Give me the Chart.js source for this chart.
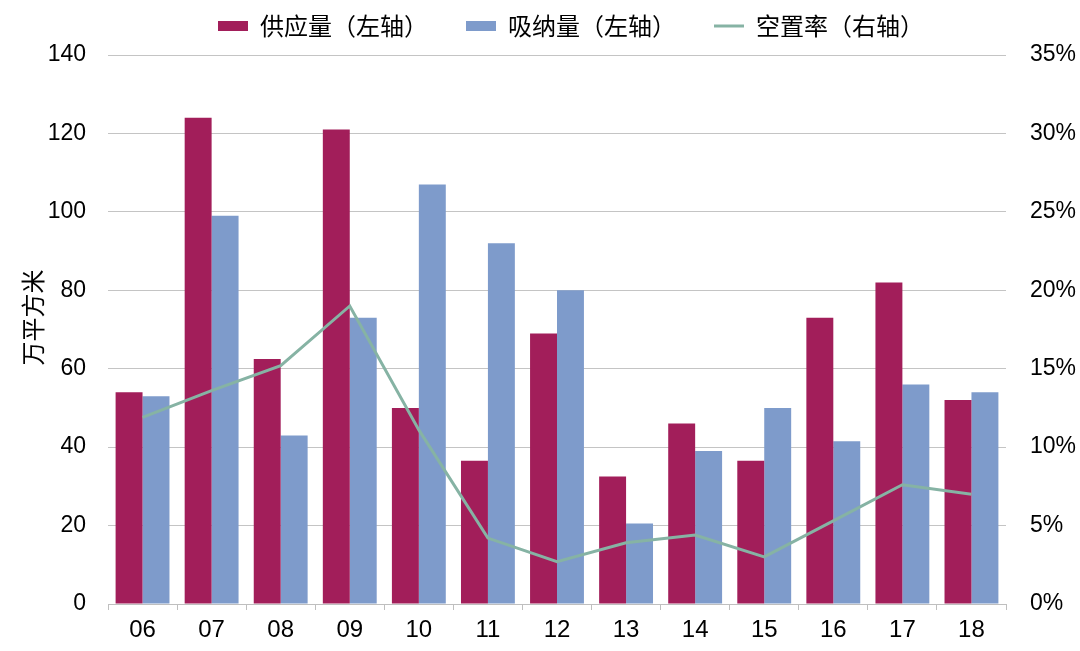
<!DOCTYPE html>
<html>
<head>
<meta charset="utf-8">
<script src="https://cdn.jsdelivr.net/npm/chart.js@4/dist/chart.umd.min.js"></script>
<style>
  html, body { margin: 0; padding: 0; background: #fff; }
  #wrap { width: 1080px; height: 651px; }
</style>
</head>
<body>
<div id="wrap"><canvas id="chart" width="1080" height="651"></canvas></div>
<script>
const categories = ['06', '07', '08', '09', '10', '11', '12', '13', '14', '15', '16', '17', '18'];
const supply = [54, 124, 62.5, 121, 50, 36.5, 69, 32.5, 46, 36.5, 73, 82, 52];
const absorption = [53, 99, 43, 73, 107, 92, 80, 20.5, 39, 50, 41.5, 56, 54];
const vacancy = [11.9, 13.6, 15.2, 19.0, 11.1, 4.2, 2.7, 3.9, 4.4, 3.0, 5.3, 7.6, 7.0];
const leftTicks = [0, 20, 40, 60, 80, 100, 120, 140];
const rightTicks = [0, 5, 10, 15, 20, 25, 30, 35];

const latin = '"Liberation Sans", Arial, "Noto Sans CJK SC", sans-serif';
const cjk = '"Noto Sans CJK SC", sans-serif';
Chart.defaults.font.family = latin;
Chart.defaults.color = '#000';

// legend: wide gaps between items but a short box, sitting close to the top edge
const legendSpacing = {
    id: 'legendSpacing',
    beforeUpdate(chart) {
        const lg = chart.legend;
        if (lg && !lg._patched) {
            const fit = lg.fit;
            lg.fit = function () { fit.call(this); this.height = 55; };
            lg._patched = true;
        }
    },
    afterLayout(chart) {
        const lg = chart.legend;
        const pad = lg.options.labels.padding;
        lg.top = 26 - pad - 12;
        lg.bottom = 54;
        lg.left += 31;
        lg.right += 31;
    }
};

new Chart(document.getElementById('chart'), {
    type: 'bar',
    data: {
        labels: categories,
        datasets: [
            {
                label: '供应量（左轴）',
                data: supply,
                backgroundColor: '#A21E5A',
                yAxisID: 'y',
                order: 1,
                pointStyle: 'rect',
                categoryPercentage: 0.78,
                barPercentage: 1.0
            },
            {
                label: '吸纳量（左轴）',
                data: absorption,
                backgroundColor: '#7E9BCB',
                yAxisID: 'y',
                order: 1,
                pointStyle: 'rect',
                categoryPercentage: 0.78,
                barPercentage: 1.0
            },
            {
                type: 'line',
                label: '空置率（右轴）',
                data: vacancy,
                borderColor: '#86B3A4',
                backgroundColor: '#86B3A4',
                borderWidth: 3,
                pointRadius: 0,
                tension: 0,
                yAxisID: 'y1',
                order: 0,
                pointStyle: 'line'
            }
        ]
    },
    plugins: [legendSpacing],
    options: {
        responsive: false,
        animation: false,
        layout: { padding: 0 },
        plugins: {
            tooltip: { enabled: false },
            legend: {
                position: 'top',
                labels: {
                    usePointStyle: true,
                    pointStyleWidth: 30,
                    boxHeight: 10,
                    padding: 38,
                    font: { size: 24, family: cjk },
                    color: '#000',
                    sort: (a, b) => a.datasetIndex - b.datasetIndex
                }
            }
        },
        scales: {
            x: {
                grid: {
                    offset: true,
                    drawOnChartArea: false,
                    drawTicks: true,
                    tickLength: 6,
                    color: '#bfbfbf'
                },
                border: { display: true, color: '#bfbfbf', width: 1 },
                ticks: { font: { size: 24 }, padding: 6, maxRotation: 0 },
                afterFit: (scale) => { scale.height = 47; }
            },
            y: {
                position: 'left',
                min: 0,
                max: 140,
                afterBuildTicks: (scale) => { scale.ticks = leftTicks.map(v => ({ value: v })); },
                grid: { color: '#c4c4c4', drawTicks: false },
                border: { display: false },
                ticks: { font: { size: 23 }, padding: 22 },
                title: {
                    display: true,
                    text: '\u3000万平方米',
                    font: { size: 24, family: cjk },
                    padding: { top: 18, bottom: 0 }
                },
                afterFit: (scale) => { scale.width = 108; }
            },
            y1: {
                position: 'right',
                min: 0,
                max: 35,
                afterBuildTicks: (scale) => { scale.ticks = rightTicks.map(v => ({ value: v })); },
                grid: { drawOnChartArea: false, drawTicks: false },
                border: { display: false },
                ticks: { font: { size: 23 }, padding: 24, callback: (v) => v + '%' },
                afterFit: (scale) => { scale.width = 74; }
            }
        }
    }
});
</script>
</body>
</html>
